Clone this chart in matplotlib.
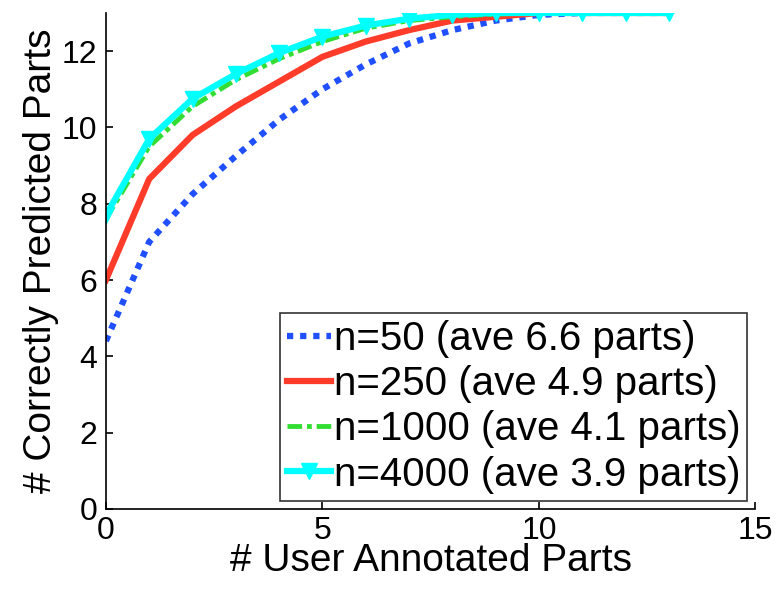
import matplotlib
matplotlib.use('Agg')
import matplotlib.pyplot as plt
import numpy as np

plt.rcParams['font.family'] = ['Liberation Sans', 'DejaVu Sans']

# data
x_parts = list(range(14))
n50 = [4.4, 7.0, 8.25, 9.25, 10.2, 11.0, 11.65, 12.2, 12.55, 12.8, 12.95, 13.0, 13.0, 13.0]
n250 = [6.0, 8.65, 9.8, 10.55, 11.2, 11.85, 12.25, 12.55, 12.8, 12.9, 13.0, 13.0, 13.0, 13.0]
n1000 = [7.6, 9.5, 10.55, 11.25, 11.8, 12.25, 12.6, 12.8, 12.9, 12.97, 13.0, 13.0, 13.0, 13.0]
n4000 = [7.7, 9.7, 10.75, 11.4, 11.95, 12.38, 12.67, 12.85, 12.95, 13.0, 13.0, 13.0, 13.0, 13.0]
labels = ['n=50 (ave 6.6 parts)', 'n=250 (ave 4.9 parts)',
          'n=1000 (ave 4.1 parts)', 'n=4000 (ave 3.9 parts)']

fig = plt.figure(figsize=(7.76, 5.89), dpi=100)
ax = fig.add_axes([0.1365, 0.136, 0.837, 0.842])

ax.plot(x_parts, n50, color='#1f4fff', lw=4.5, linestyle=(0, (1, 1.1)),
        dash_capstyle='butt', label=labels[0])
ax.plot(x_parts, n250, color='#ff3b2a', lw=4.5, label=labels[1])
ax.plot(x_parts, n1000, color='#33dd33', lw=3.5, linestyle=(0, (3, 1, 1, 1)),
        label=labels[2])
ax.plot(x_parts, n4000, color='#00ffff', lw=4.5, marker='v', markersize=11,
        label=labels[3])

ax.set_xlim(0, 15)
ax.set_ylim(0, 13)
ax.set_xticks([0, 5, 10, 15])
ax.set_yticks([0, 2, 4, 6, 8, 10, 12])
ax.spines['top'].set_visible(False)
ax.spines['right'].set_visible(False)
ax.spines['left'].set_linewidth(1.2)
ax.spines['bottom'].set_linewidth(1.2)
ax.tick_params(direction='in', length=5, width=1.2, labelsize=23)
ax.tick_params(axis='x', pad=5)
ax.tick_params(axis='y', pad=6)

ax.set_xlabel('# User Annotated Parts', fontsize=28, labelpad=-2)
ax.set_ylabel('# Correctly Predicted Parts', fontsize=28, labelpad=2)

leg = ax.legend(loc='lower right', fontsize=29, frameon=True, fancybox=False,
                handlelength=1.1, handletextpad=0.05, labelspacing=0.18,
                borderpad=0.18, borderaxespad=0.2)
leg.get_frame().set_edgecolor('black')
leg.get_frame().set_linewidth(1.2)

fig.savefig('out.png', dpi=100)
